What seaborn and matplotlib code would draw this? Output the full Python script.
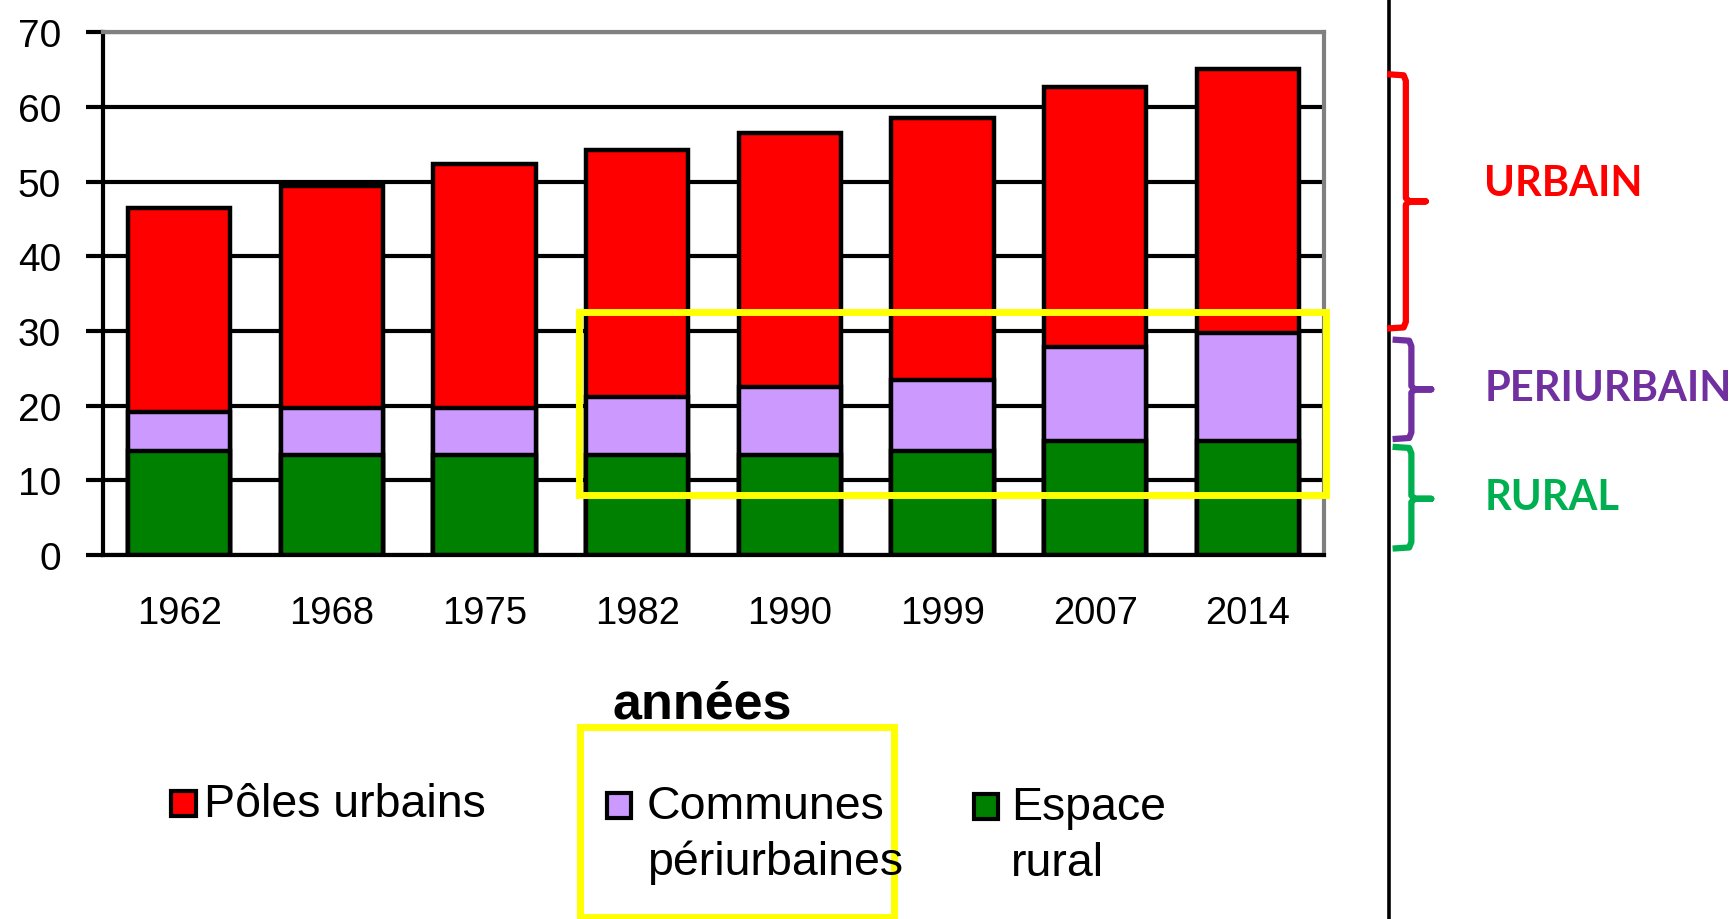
import seaborn as sns
import matplotlib.pyplot as plt
import pandas as pd
from matplotlib.patches import Rectangle
from matplotlib.lines import Line2D

# Population (millions) par type d'espace
years = ['1962', '1968', '1975', '1982', '1990', '1999', '2007', '2014']
rural = [13.9, 13.4, 13.4, 13.4, 13.4, 13.9, 15.3, 15.3]
periurbain = [5.3, 6.3, 6.3, 7.8, 9.1, 9.6, 12.5, 14.4]
urbain = [27.3, 29.7, 32.6, 33.0, 34.0, 35.0, 34.9, 35.4]

series_labels = ['Pôles urbains', 'Communes\npériurbaines', 'Espace\nrural']
series_colors = ['#FF0000', '#CC99FF', '#008000']
zone_labels = ['URBAIN', 'PERIURBAIN', 'RURAL']
zone_colors = ['#FF0000', '#7030A0', '#00B050']

df = pd.DataFrame({'annee': years, 'rural': rural, 'peri': periurbain, 'urbain': urbain})
df['cum_peri'] = df['rural'] + df['peri']
df['total'] = df['cum_peri'] + df['urbain']

sns.set_style('white')
plt.rcParams['font.family'] = ['Liberation Sans', 'DejaVu Sans']
plt.rcParams['text.color'] = 'black'
plt.rcParams['xtick.color'] = 'black'
plt.rcParams['ytick.color'] = 'black'
plt.rcParams['axes.labelcolor'] = 'black'

W, H = 1568, 832  # layout measured on the shrunk reference


def fx(x):
    return x / W


def fy(y):
    return 1 - y / H


fig = plt.figure(figsize=(17.33, 9.2), dpi=100)
ax = fig.add_axes([fx(93), fy(503), fx(1198) - fx(93), fy(30) - fy(503)])

# stacked bars: draw cumulative totals, tallest first
for col, color in zip(['total', 'cum_peri', 'rural'], series_colors):
    sns.barplot(data=df, x='annee', y=col, color=color, saturation=1,
                edgecolor='black', linewidth=3.2, width=0.67, errorbar=None, ax=ax)

ax.set_xlim(-0.5, len(years) - 0.5)
ax.set_ylim(0, 70)
ax.set_yticks(range(0, 71, 10))
ax.set_ylabel('')
ax.set_axisbelow(True)
ax.yaxis.grid(True, color='black', linewidth=3)

for side in ['top', 'right']:
    ax.spines[side].set_color('#808080')
    ax.spines[side].set_linewidth(3)
for side in ['left', 'bottom']:
    ax.spines[side].set_color('black')
    ax.spines[side].set_linewidth(3)

ax.set_xticks([i - 0.5 for i in range(len(years) + 1)], minor=True)
ax.tick_params(axis='x', which='major', length=0, pad=29, labelsize=27.5)
ax.tick_params(axis='x', which='minor', length=12, width=2.5, direction='out')
ax.tick_params(axis='y', length=12, width=3, direction='out', pad=18, labelsize=28, left=True)

ax.set_xlabel('années', fontsize=37.5, fontweight='bold', va='center')
ax.xaxis.set_label_coords(0.4905, -0.2854)

# legend drawn by hand so the square sits on the first line
legend_pos = [(155, 185, 728), (549, 585, 730), (881, 915, 731)]
for (sx, tx, ty), label, color in zip(legend_pos, series_labels, series_colors):
    fig.patches.append(Rectangle((fx(sx), fy(ty + 11)), fx(22), 23 / H, transform=fig.transFigure,
                                 facecolor=color, edgecolor='black', linewidth=3))
    for k, line in enumerate(label.split('\n')):
        fig.text(fx(tx), fy(ty + 50 * k), line, fontsize=33.5, va='center', ha='left')

# yellow highlight boxes
for x0, y0, x1, y1 in [(524, 283, 1200, 449), (525, 658, 809, 830)]:
    fig.patches.append(Rectangle((fx(x0), fy(y1)), fx(x1) - fx(x0), fy(y0) - fy(y1),
                                 transform=fig.transFigure, fill=False,
                                 edgecolor='#FFFF00', linewidth=5))

# separator
fig.add_artist(Line2D([fx(1257), fx(1257)], [0, 1], transform=fig.transFigure,
                      color='black', linewidth=2.6))

# braces and zone names
braces = [(1255, 1272, 1290, 68, 183, 298), (1260, 1277, 1295, 308, 353, 398),
          (1260, 1277, 1295, 405, 452, 497)]
text_y = [166, 352, 450]
for (x0, x1, x2, top, mid, bot), label, color, ty in zip(braces, zone_labels, zone_colors, text_y):
    xs = [x0, x1 - 2, x1, x1, x1 + 3, x2, x1 + 3, x1, x1, x1 - 2, x0]
    ys = [top, top + 1, top + 6, mid - 3, mid, mid, mid, mid + 3, bot - 6, bot - 1, bot]
    fig.add_artist(Line2D([fx(v) for v in xs], [fy(v) for v in ys], transform=fig.transFigure,
                          color=color, linewidth=4.5, solid_joinstyle='round', solid_capstyle='butt'))
    fig.text(fx(1343), fy(ty), label, family='Lato', fontweight='bold', fontsize=30,
             color=color, va='center', ha='left')

fig.savefig('out.png', dpi=100)
